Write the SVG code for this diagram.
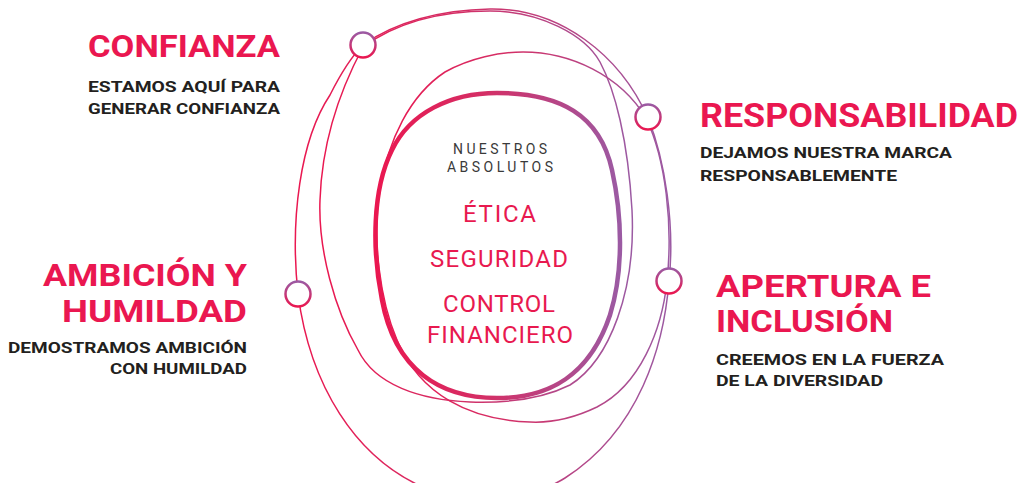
<svg xmlns="http://www.w3.org/2000/svg" width="1022" height="483" viewBox="0 0 1022 483">
<defs>
<linearGradient id="gH" x1="0" y1="0" x2="1" y2="0">
<stop offset="0" stop-color="#EA1750"/>
<stop offset="0.45" stop-color="#D42F66"/>
<stop offset="1" stop-color="#9B5AA3"/>
</linearGradient>
<linearGradient id="gV" x1="0" y1="0" x2="0" y2="1">
<stop offset="0" stop-color="#9B5AA3"/>
<stop offset="1" stop-color="#EA1750"/>
</linearGradient>
<style>
.thin{fill:none;stroke:url(#gH);stroke-width:1.5}
.thick{fill:none;stroke:url(#gH);stroke-width:4.5}
.dot{fill:#fff;stroke:url(#gV);stroke-width:2.5}
.h{font-family:Roboto,"Liberation Sans",sans-serif;font-weight:700;fill:#EA1750}
.b{font-family:Roboto,"Liberation Sans",sans-serif;font-weight:700;fill:#231F20;font-size:14.5px}
.c{font-family:Roboto,"Liberation Sans",sans-serif;font-weight:400;fill:#E8194F;font-size:24px}
.g{font-family:Roboto,"Liberation Sans",sans-serif;font-weight:400;fill:#3A3A3A;font-size:14px}
</style>
</defs>
<g id="connectors">
<path class="thin" d="M 363,45 C 395,22 440,10 490,9 C 560,8 620,55 648,118 C 665,160 675,225 669,281 C 664,345 640,430 565,478 C 530,500 470,505 425,488 C 355,458 310,385 298,294 C 290,220 300,140 330,95 C 340,75 350,58 363,45 Z"/>
<path class="thin" d="M 363,47 C 400,20 445,11 490,11 C 540,11 585,35 600,62 C 615,90 628,140 632,210 C 636,290 610,360 570,385 C 540,400 500,403 470,402 C 420,400 375,385 358,350 C 335,310 318,250 320,200 C 322,140 340,90 363,47 Z"/>
<path class="thin" d="M 523,52 C 570,52 620,75 646,118 C 666,160 673,225 667,281 C 662,330 640,385 597,407 C 570,420 550,423 530,422 C 470,420 420,395 397,340 C 380,300 372,240 380,190 C 388,140 410,95 445,72 C 470,58 500,52 523,52 Z"/>
</g>
<g id="core">
<path class="thick" d="M 497,93 C 560,93 600,115 612,170 C 622,215 624,270 610,315 C 590,375 550,398 497,398 C 440,398 395,370 382,300 C 372,250 372,190 392,150 C 410,113 450,93 497,93 Z"/>
<text class="g"><tspan x="453" y="154" textLength="94" lengthAdjust="spacing">NUESTROS</tspan><tspan x="447" y="172" textLength="106" lengthAdjust="spacing">ABSOLUTOS</tspan></text>
<text class="c" x="463" y="222" textLength="73" lengthAdjust="spacing">ÉTICA</text>
<text class="c" x="430" y="267" textLength="138" lengthAdjust="spacing">SEGURIDAD</text>
<text class="c"><tspan x="443" y="312" textLength="112" lengthAdjust="spacing">CONTROL</tspan><tspan x="427" y="343" textLength="146" lengthAdjust="spacing">FINANCIERO</tspan></text>
</g>
<g id="confianza">
<circle class="dot" cx="363" cy="45" r="12.5"/>
<text class="h" x="88" y="57" font-size="31" textLength="192" lengthAdjust="spacingAndGlyphs">CONFIANZA</text>
<text class="b"><tspan x="88" y="92" textLength="192" lengthAdjust="spacingAndGlyphs">ESTAMOS AQUÍ PARA</tspan><tspan x="88" y="114" textLength="192" lengthAdjust="spacingAndGlyphs">GENERAR CONFIANZA</tspan></text>
</g>
<g id="responsabilidad">
<circle class="dot" cx="648" cy="117" r="12.5"/>
<text class="h" x="700" y="127" font-size="34" textLength="318" lengthAdjust="spacingAndGlyphs">RESPONSABILIDAD</text>
<text class="b"><tspan x="700" y="158" textLength="252" lengthAdjust="spacingAndGlyphs">DEJAMOS NUESTRA MARCA</tspan><tspan x="700" y="181" textLength="197" lengthAdjust="spacingAndGlyphs">RESPONSABLEMENTE</tspan></text>
</g>
<g id="ambicion">
<circle class="dot" cx="298" cy="294" r="12.5"/>
<text class="h" font-size="31"><tspan x="43" y="286" textLength="204" lengthAdjust="spacingAndGlyphs">AMBICIÓN Y</tspan><tspan x="62" y="322" textLength="185" lengthAdjust="spacingAndGlyphs">HUMILDAD</tspan></text>
<text class="b"><tspan x="8" y="353" textLength="239" lengthAdjust="spacingAndGlyphs">DEMOSTRAMOS AMBICIÓN</tspan><tspan x="110" y="374" textLength="137" lengthAdjust="spacingAndGlyphs">CON HUMILDAD</tspan></text>
</g>
<g id="apertura">
<circle class="dot" cx="669" cy="281" r="12.5"/>
<text class="h" font-size="32"><tspan x="716" y="297" textLength="215" lengthAdjust="spacingAndGlyphs">APERTURA E</tspan><tspan x="716" y="332" textLength="177" lengthAdjust="spacingAndGlyphs">INCLUSIÓN</tspan></text>
<text class="b"><tspan x="716" y="365" textLength="228" lengthAdjust="spacingAndGlyphs">CREEMOS EN LA FUERZA</tspan><tspan x="716" y="386" textLength="167" lengthAdjust="spacingAndGlyphs">DE LA DIVERSIDAD</tspan></text>
</g>
</svg>
